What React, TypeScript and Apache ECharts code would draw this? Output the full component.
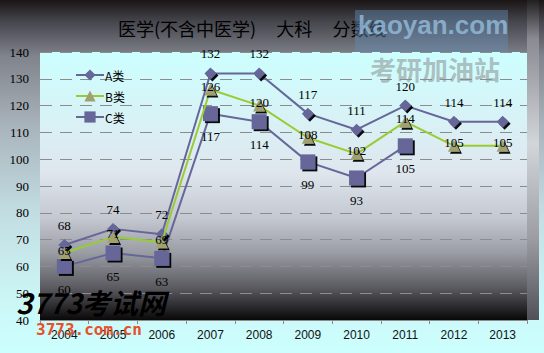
import React, { useEffect, useRef } from "react";
import * as echarts from "echarts";

const years = ["2004", "2005", "2006", "2007", "2008", "2009", "2010", "2011", "2012", "2013"];
const seriesA = [68, 74, 72, 132, 132, 117, 111, 120, 114, 114];
const seriesB = [65, 71, 69, 126, 120, 108, 102, 114, 105, 105];
const seriesC = [60, 65, 63, 117, 114, 99, 93, 105, null, null];
const seriesNames = ["A类", "B类", "C类"];
const titleText = "医学(不含中医学)     大科     分数线";

export default function App() {
  const ref = useRef<HTMLDivElement>(null);
  useEffect(() => {
    if (!ref.current) return;
    const chart = echarts.init(ref.current, null, { renderer: "svg" });
    const grad = (stops: [number, string][]) =>
      new echarts.graphic.LinearGradient(0, 0, 0, 1, stops.map(([offset, color]) => ({ offset, color })));
    const labelFont = { fontFamily: "Liberation Serif", fontSize: 13, color: "#000" };
    const shadow = { shadowColor: "rgba(0,0,0,0.95)", shadowOffsetX: 2, shadowOffsetY: 2, shadowBlur: 1 };
    chart.setOption({
      animation: false,
      backgroundColor: grad([
        [0, "#1a1515"],
        [0.06, "#45454c"],
        [0.16, "#80848c"],
        [0.35, "#a8b2ba"],
        [0.6, "#c2dde2"],
        [0.85, "#ccf6f6"],
        [1, "#ccffff"],
      ]),
      title: {
        text: titleText,
        left: 113,
        top: 14,
        textStyle: { fontFamily: "Noto Sans CJK SC", fontSize: 18, fontWeight: "normal", color: "#000" },
      },
      legend: {
        orient: "vertical",
        left: 70,
        top: 64,
        itemWidth: 28,
        itemHeight: 14,
        itemGap: 9,
        textStyle: { fontFamily: "Noto Sans CJK SC", fontSize: 12, color: "#000", padding: [0, 0, 0, -4] },
        data: seriesNames,
      },
      grid: {
        left: 40,
        right: 17,
        top: 52,
        bottom: 33,
        show: true,
        borderWidth: 0,
        outerBoundsMode: "none",
        backgroundColor: grad([
          [0, "#ccffff"],
          [0.25, "#d8f2f6"],
          [0.45, "#dfe6ee"],
          [0.62, "#c4c8d0"],
          [0.75, "#9a9ca4"],
          [0.88, "#5a5a60"],
          [1, "#0a0808"],
        ]),
      },
      xAxis: {
        type: "category",
        data: years,
        boundaryGap: true,
        axisLine: { show: true, lineStyle: { color: "#8a8a8a", width: 1 } },
        axisTick: { show: true, length: 4, lineStyle: { color: "#8a8a8a" } },
        axisLabel: { fontFamily: "Liberation Sans", fontSize: 12, color: "#111", margin: 9 },
      },
      yAxis: {
        type: "value",
        min: 40,
        max: 140,
        interval: 10,
        axisLine: { show: false },
        axisTick: { show: false },
        axisLabel: { fontFamily: "Liberation Serif", fontSize: 13, color: "#000", margin: 11 },
        splitLine: { show: true, lineStyle: { color: "#8c8c8c", type: [12, 8], width: 1 } },
      },
      series: [
        {
          name: seriesNames[0],
          type: "line",
          data: seriesA,
          symbol: "diamond",
          symbolSize: 12,
          lineStyle: { color: "#666699", width: 2 },
          itemStyle: { color: "#666699", ...shadow },
          label: { show: true, position: "top", distance: 7, ...labelFont },
          z: 3,
        },
        {
          name: seriesNames[1],
          type: "line",
          data: seriesB,
          symbol: "triangle",
          symbolSize: 12,
          lineStyle: { color: "#99cc33", width: 2 },
          itemStyle: { color: "#a0a070", ...shadow },
          label: { show: true, position: "inside", offset: [0, -3], ...labelFont },
          z: 4,
        },
        {
          name: seriesNames[2],
          type: "line",
          data: seriesC,
          symbol: "rect",
          symbolSize: 15,
          lineStyle: { color: "#666699", width: 2 },
          itemStyle: { color: "#666699", ...shadow },
          label: { show: true, position: "bottom", distance: 9, ...labelFont },
          z: 2,
        },
      ],
      graphic: [
        {
          type: "rect",
          left: 527,
          top: 0,
          shape: { width: 12, height: 320 },
          style: {
            fill: grad([
              [0, "#202020"],
              [0.12, "#8a8a92"],
              [0.45, "#d2d6da"],
              [0.75, "#9a9ca2"],
              [1, "#505058"],
            ]),
          },
          z: 1,
        },
        {
          type: "rect",
          left: 355,
          top: 10,
          shape: { width: 153, height: 42 },
          style: { fill: "rgba(100,140,180,0.45)" },
          z: 50,
        },
        {
          type: "text",
          left: 358,
          top: 12,
          style: {
            text: "kaoyan.com",
            font: "bold 26px 'Liberation Sans'",
            fill: "rgba(150,190,220,0.8)",
          },
          z: 51,
        },
        {
          type: "text",
          left: 370,
          top: 55,
          style: {
            text: "考研加油站",
            font: "bold 26px 'Noto Sans CJK SC'",
            fill: "rgba(140,140,140,0.55)",
          },
          z: 51,
        },
        {
          type: "text",
          left: 16,
          top: 288,
          style: {
            text: "3773考试网",
            font: "italic bold 28px 'Noto Sans CJK SC'",
            fill: grad([
              [0, "#3aa0f0"],
              [1, "#1050c0"],
            ]),
          },
          z: 51,
        },
        {
          type: "text",
          left: 36,
          top: 321,
          style: {
            text: "3773.com.cn",
            font: "bold 16px 'DejaVu Sans Mono'",
            fill: "#e8502a",
          },
          z: 51,
        },
      ],
    });
    return () => chart.dispose();
  }, []);
  return <div ref={ref} style={{ position: "fixed", left: 0, top: 0, width: 544, height: 353 }} />;
}
